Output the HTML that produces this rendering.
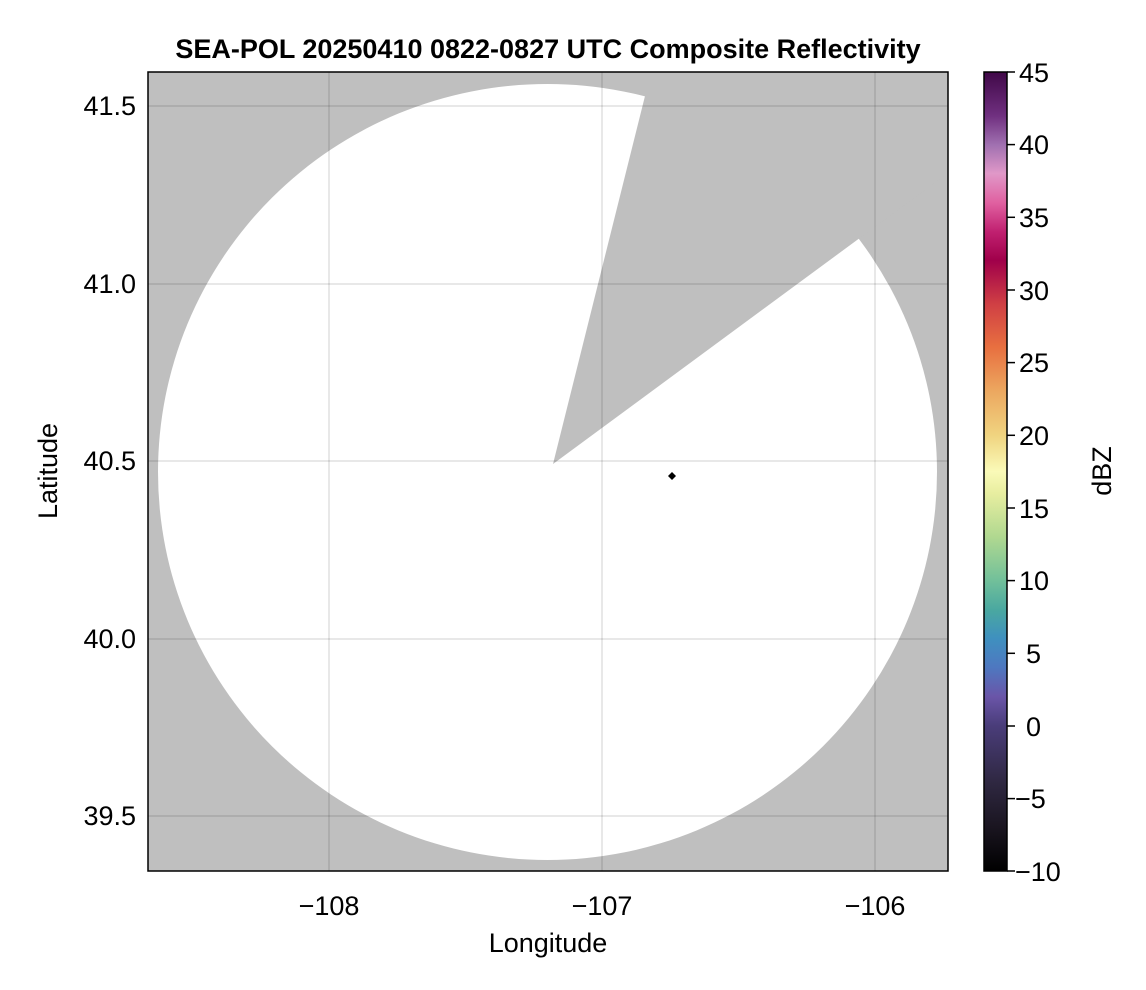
<!DOCTYPE html>
<html><head><style>body{margin:0;background:#fff}svg{display:block}</style></head><body>
<svg width="1146" height="990" viewBox="0 0 1146 990" font-family="Liberation Sans, sans-serif">
<defs>
<linearGradient id="cb" x1="0" y1="1" x2="0" y2="0">
<stop offset="0" stop-color="#000"/>
<stop offset="0.055" stop-color="#1a1520"/>
<stop offset="0.109" stop-color="#2e2740"/>
<stop offset="0.182" stop-color="#4a3d7a"/>
<stop offset="0.218" stop-color="#6a55a8"/>
<stop offset="0.255" stop-color="#4e78c0"/>
<stop offset="0.291" stop-color="#3f90bf"/>
<stop offset="0.327" stop-color="#4aa8a0"/>
<stop offset="0.364" stop-color="#72c09a"/>
<stop offset="0.418" stop-color="#b0d890"/>
<stop offset="0.473" stop-color="#e8eea0"/>
<stop offset="0.5" stop-color="#fafab8"/>
<stop offset="0.545" stop-color="#f0d480"/>
<stop offset="0.6" stop-color="#eca860"/>
<stop offset="0.655" stop-color="#e87040"/>
<stop offset="0.709" stop-color="#d04044"/>
<stop offset="0.764" stop-color="#a0004a"/>
<stop offset="0.8" stop-color="#c02070"/>
<stop offset="0.836" stop-color="#e060a0"/>
<stop offset="0.873" stop-color="#e098c8"/>
<stop offset="0.909" stop-color="#a070b0"/>
<stop offset="0.945" stop-color="#703080"/>
<stop offset="1" stop-color="#400848"/>
</linearGradient>
</defs>
<text x="548" y="58" text-anchor="middle" font-size="27" font-weight="bold">SEA-POL 20250410 0822-0827 UTC Composite Reflectivity</text>
<rect x="148" y="72" width="800" height="799" fill="#bfbfbf"/>
<ellipse cx="547.5" cy="472" rx="389.5" ry="388" fill="#fff"/>
<polygon points="553,464 651,72 948,72 948,173" fill="#bfbfbf"/>
<g stroke="#000" stroke-opacity="0.12" stroke-width="1.5">
<line x1="329" y1="72" x2="329" y2="871"/><line x1="602" y1="72" x2="602" y2="871"/><line x1="875" y1="72" x2="875" y2="871"/>
<line x1="148" y1="106" x2="948" y2="106"/><line x1="148" y1="284" x2="948" y2="284"/><line x1="148" y1="461" x2="948" y2="461"/><line x1="148" y1="639" x2="948" y2="639"/><line x1="148" y1="816" x2="948" y2="816"/>
</g>
<polygon points="672,472 676,476 672,480 668,476" fill="#000"/>
<rect x="148" y="72" width="800" height="799" fill="none" stroke="#000" stroke-width="1.5"/>
<g font-size="27" text-anchor="middle">
<text x="329" y="915">−108</text><text x="602" y="915">−107</text><text x="875" y="915">−106</text>
<text x="548" y="952">Longitude</text>
</g>
<g font-size="27" text-anchor="end">
<text x="136" y="115">41.5</text><text x="136" y="293">41.0</text><text x="136" y="470">40.5</text><text x="136" y="648">40.0</text><text x="136" y="825">39.5</text>
</g>
<text transform="translate(57,471) rotate(-90)" font-size="27" text-anchor="middle">Latitude</text>
<rect x="984" y="72" width="23" height="799" fill="url(#cb)" stroke="#000" stroke-width="1.5"/>
<g stroke="#000" stroke-width="1.5">
<line x1="1007" y1="72" x2="1015" y2="72"/><line x1="1007" y1="144.6" x2="1015" y2="144.6"/><line x1="1007" y1="217.3" x2="1015" y2="217.3"/><line x1="1007" y1="290" x2="1015" y2="290"/><line x1="1007" y1="362.6" x2="1015" y2="362.6"/><line x1="1007" y1="435.3" x2="1015" y2="435.3"/><line x1="1007" y1="508" x2="1015" y2="508"/><line x1="1007" y1="580.6" x2="1015" y2="580.6"/><line x1="1007" y1="653.3" x2="1015" y2="653.3"/><line x1="1007" y1="726" x2="1015" y2="726"/><line x1="1007" y1="798.6" x2="1015" y2="798.6"/><line x1="1007" y1="871" x2="1015" y2="871"/>
</g>
<g font-size="27">
<text x="1019" y="82">45</text><text x="1019" y="154">40</text><text x="1019" y="227">35</text><text x="1019" y="300">30</text><text x="1019" y="372">25</text><text x="1019" y="445">20</text><text x="1019" y="518">15</text><text x="1019" y="590">10</text><text x="1026" y="663">5</text><text x="1026" y="736">0</text><text x="1015" y="808">−5</text><text x="1015" y="881">−10</text>
</g>
<text transform="translate(1111,471) rotate(-90)" font-size="27" text-anchor="middle">dBZ</text>
</svg>
</body></html>
